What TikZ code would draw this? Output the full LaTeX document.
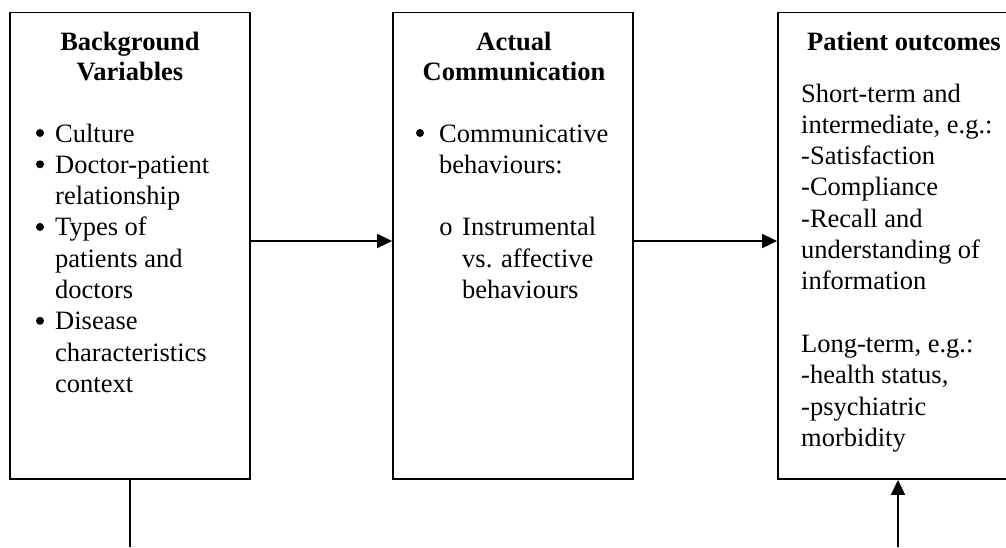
\documentclass[tikz,border=0pt]{standalone}
\usepackage{fontspec}
\setmainfont{Liberation Serif}
\usetikzlibrary{arrows.meta}
\begin{document}
\begin{tikzpicture}[x=1pt,y=-1pt,
  box/.style={draw, line width=1.8pt, minimum width=240pt, minimum height=466.5pt, inner sep=0pt},
  txt/.style={anchor=base west, inner sep=0pt, font=\fontsize{26.5}{31.3}\selectfont},
  bul/.style={circle, fill, inner sep=0pt, minimum size=8pt},
  sbul/.style={anchor=base, inner sep=0pt, font=\fontsize{26.5}{31.3}\selectfont},
  ttl/.style={anchor=base, inner sep=0pt, font=\fontsize{26.5}{31.3}\selectfont\bfseries},
  arr/.style={line width=1.8pt, -{Triangle[length=15pt,width=14pt]}},
  ln/.style={line width=1.8pt}]
\useasboundingbox (0,0) rectangle (1006,547);
\begin{scope}
\clip (0,0) rectangle (1006,547);
% boxes
\node[box] (bg) at (130,245.75) {};
\node[box] (ac) at (513,245.75) {};
\node[box] (po) at (898,245.75) {};
% titles
\node[ttl] (t1a) at (130,50) {Background};
\node[ttl] (t1b) at (130,80.5) {Variables};
\node[ttl] (t2a) at (514,50) {Actual};
\node[ttl] (t2b) at (514,80.5) {Communication};
\node[ttl] (t3a) at (904,50) {Patient outcomes};
% left box list
\node[bul] (b1) at (40,133) {};
\node[txt] (l1) at (55,142) {Culture};
\node[bul] (b2) at (40,164.3) {};
\node[txt] (l2) at (55,173.3) {Doctor-patient};
\node[txt] (l3) at (55,204.6) {relationship};
\node[bul] (b3) at (40,226.9) {};
\node[txt] (l4) at (55,235.9) {Types of};
\node[txt] (l5) at (55,267.2) {patients and};
\node[txt] (l6) at (55,298.5) {doctors};
\node[bul] (b4) at (40,320.8) {};
\node[txt] (l7) at (55,329.8) {Disease};
\node[txt] (l8) at (55,361.1) {characteristics};
\node[txt] (l9) at (55,392.4) {context};
% middle box list
\node[bul] (m0) at (420,133) {};
\node[txt] (m1) at (439,142) {Communicative};
\node[txt] (m2) at (439,173.3) {behaviours:};
\node[sbul] (m3) at (446,235.9) {o};
\node[txt] (m4) at (462,235.9) {Instrumental};
\node[txt] (m5) at (462,267.2) {vs. affective};
\node[txt] (m6) at (462,298.5) {behaviours};
% right box text
\node[txt] (r1) at (801,102) {Short-term and};
\node[txt] (r2) at (801,133.3) {intermediate, e.g.:};
\node[txt] (r3) at (801,164.6) {-Satisfaction};
\node[txt] (r4) at (801,195.9) {-Compliance};
\node[txt] (r5) at (801,227.2) {-Recall and};
\node[txt] (r6) at (801,258.5) {understanding of};
\node[txt] (r7) at (801,289.8) {information};
\node[txt] (r8) at (801,352.4) {Long-term, e.g.:};
\node[txt] (r9) at (801,383.7) {-health status,};
\node[txt] (r10) at (801,415) {-psychiatric};
\node[txt] (r11) at (801,446.3) {morbidity};
% connectors
\draw[arr] (bg.east |- 0,241) -- (ac.west |- 0,241);
\draw[arr] (ac.east |- 0,241) -- (po.west |- 0,241);
\coordinate (bl) at (130,547);
\coordinate (br) at (898,547);
\draw[ln] (bg.south) -- (bl);
\draw[arr] (br) -- (po.south);
\end{scope}
\end{tikzpicture}
\end{document}
